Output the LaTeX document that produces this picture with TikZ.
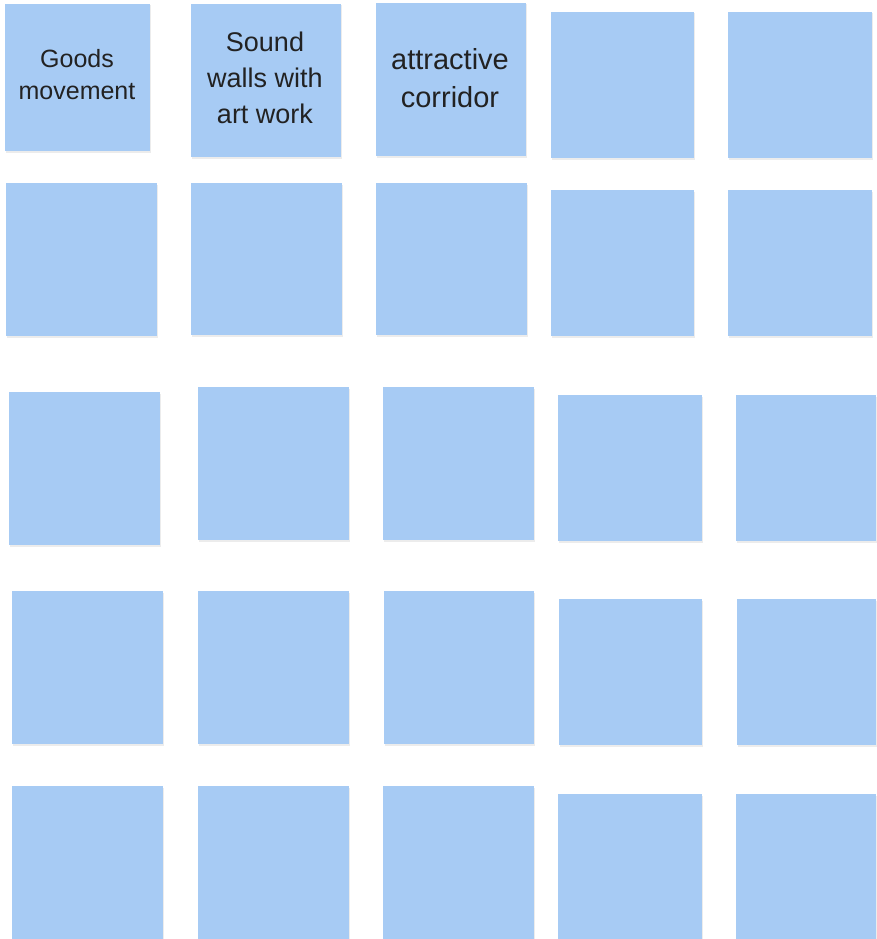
\documentclass[tikz,border=0pt]{standalone}
\usepackage{fontspec}
\setmainfont{Liberation Sans}
\usetikzlibrary{shadows}
\definecolor{stickyblue}{HTML}{A7CBF4}
\definecolor{inktext}{HTML}{222222}
\tikzset{
  sticky/.style={fill=stickyblue, draw=none, inner sep=0pt,
    drop shadow={shadow xshift=1pt, shadow yshift=-1.5pt, opacity=0.12, fill=black!60}},
  stickytext/.style={align=center, text=inktext, inner sep=0pt}
}
\newcommand\stickynote[5]{%
  \node[sticky, minimum width={#4pt-#2pt}, minimum height={#5pt-#3pt}]
    (#1) at ({(#2+#4)/2},{(#3+#5)/2}) {};}
\begin{document}
\begin{tikzpicture}[x=1pt,y=-1pt]
\useasboundingbox (0,0) rectangle (876,939);
% row 1
\stickynote{a1}{5}{4}{150}{151}
\stickynote{a2}{191}{4}{341}{157}
\stickynote{a3}{376}{3}{526}{156}
\stickynote{a4}{551}{12}{694}{158}
\stickynote{a5}{728}{12}{872}{158}
% row 2
\stickynote{b1}{6}{183}{157}{336}
\stickynote{b2}{191}{183}{342}{335}
\stickynote{b3}{376}{183}{527}{335}
\stickynote{b4}{551}{190}{694}{336}
\stickynote{b5}{728}{190}{872}{336}
% row 3
\stickynote{c1}{9}{392}{160}{545}
\stickynote{c2}{198}{387}{349}{540}
\stickynote{c3}{383}{387}{534}{540}
\stickynote{c4}{558}{395}{702}{541}
\stickynote{c5}{736}{395}{876}{541}
% row 4
\stickynote{d1}{12}{591}{163}{744}
\stickynote{d2}{198}{591}{349}{744}
\stickynote{d3}{384}{591}{534}{744}
\stickynote{d4}{559}{599}{702}{745}
\stickynote{d5}{737}{599}{876}{745}
% row 5
\stickynote{e1}{12}{786}{163}{939}
\stickynote{e2}{198}{786}{349}{939}
\stickynote{e3}{383}{786}{534}{939}
\stickynote{e4}{558}{794}{702}{939}
\stickynote{e5}{736}{794}{876}{939}
% texts
\node[stickytext, font={\fontsize{25}{32}\selectfont}] (t1) at (77,75) {Goods\\movement};
\node[stickytext, font={\fontsize{27}{36}\selectfont}] (t2) at (265,78) {Sound\\walls with\\art work};
\node[stickytext, font={\fontsize{29}{38}\selectfont}] (t3) at (450,78) {attractive\\corridor};
\end{tikzpicture}
\end{document}
